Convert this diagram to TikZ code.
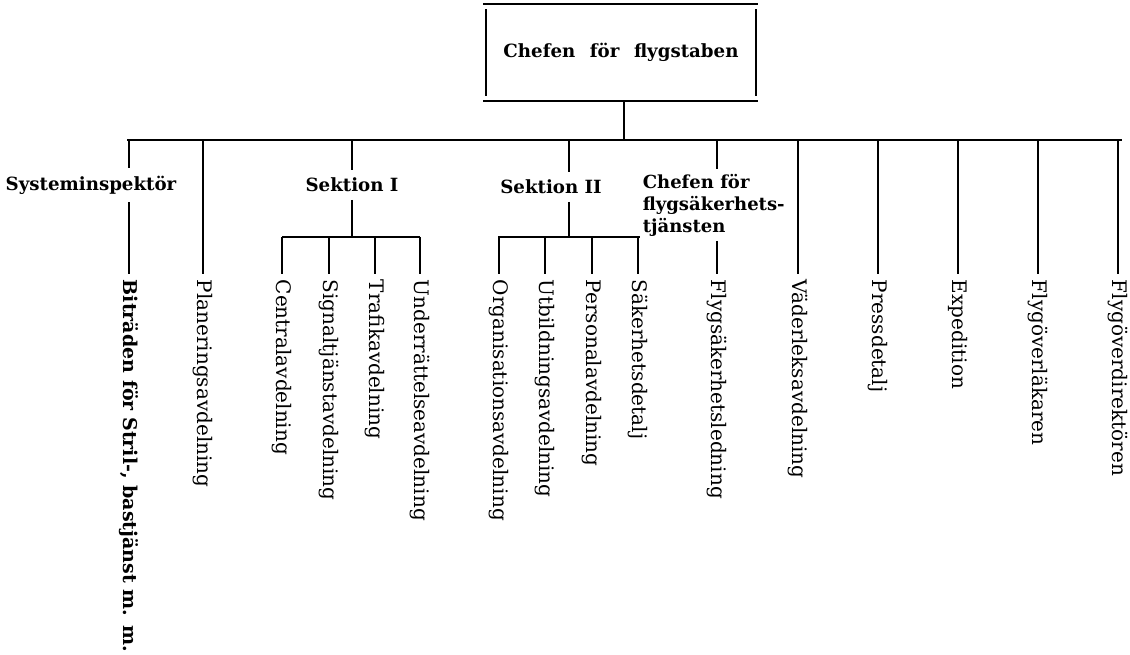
\documentclass[tikz,border=0pt]{standalone}
\usepackage{fontspec}
\setmainfont{DejaVu Serif}
\usetikzlibrary{calc}
\begin{document}
\begin{tikzpicture}[x=1pt,y=-1pt,line width=1.7pt,
  rot/.style={font=\fontsize{20}{22}\selectfont, inner sep=0pt, rotate=-90, anchor=west},
  head/.style={font=\bfseries\fontsize{18.2}{22}\selectfont, inner xsep=0pt, inner ysep=7pt},
  conn/.style={line width=1.7pt}]
\useasboundingbox (0,0) rectangle (1130,655);

% top box
\node[head, minimum width=268pt, minimum height=85pt, inner sep=0pt] (chef) at (621,52.5) {Chefen\hspace{0.45em} för\hspace{0.45em} flygstaben};
\draw[conn] ([xshift=-3pt,yshift=5pt]chef.north west) -- ([xshift=2pt,yshift=5pt]chef.north east);
\draw[conn] ([xshift=-3pt,yshift=-5pt]chef.south west) -- ([xshift=2pt,yshift=-5pt]chef.south east);
\draw[conn] (chef.north west) -- (chef.south west);
\draw[conn] (chef.north east) -- (chef.south east);

% main bus
\coordinate (busL) at (127,140);
\coordinate (busR) at (1122,140);
\draw[conn] (busL) -- (busR);
\draw[conn] ([xshift=3pt,yshift=-5pt]chef.south) -- ([xshift=3pt]chef.south |- busL);

% rotated labels
\node[rot, font=\bfseries\fontsize{19}{22}\selectfont] (bitr) at (129,279) {Biträden för Stril-, bastjänst m. m.};
\node[rot] (plan) at (203,279) {Planeringsavdelning};
\node[rot] (cent) at (282,279) {Centralavdelning};
\node[rot] (sign) at (329,279) {Signaltjänstavdelning};
\node[rot] (traf) at (375,279) {Trafikavdelning};
\node[rot] (unde) at (420,279) {Underrättelseavdelning};
\node[rot] (orga) at (499,279) {Organisationsavdelning};
\node[rot] (utbi) at (545,279) {Utbildningsavdelning};
\node[rot] (pers) at (592,279) {Personalavdelning};
\node[rot] (sake) at (638,279) {Säkerhetsdetalj};
\node[rot] (flyg) at (717,279) {Flygsäkerhetsledning};
\node[rot] (vade) at (798,279) {Väderleksavdelning};
\node[rot] (pres) at (878,279) {Pressdetalj};
\node[rot] (expe) at (958,279) {Expedition};
\node[rot] (lak) at (1038,279) {Flygöverläkaren};
\node[rot] (dir) at (1118,279) {Flygöverdirektören};

% intermediate labels
\node[head] (sys) at (91,185) {Systeminspektör};
\node[head] (sek1) at (352,185) {Sektion I};
\node[head] (sek2) at (551,187) {Sektion II};
\node[head, align=left, anchor=west, inner ysep=4pt, font=\bfseries\fontsize{18}{22}\selectfont] (fsk) at (642,205) {Chefen för\\flygsäkerhets-\\tjänsten};

% Systeminspektör branch
\draw[conn] (bitr.west |- busL) -- (bitr.west |- sys.north);
\draw[conn] (bitr.west |- sys.south) -- ([yshift=5pt]bitr.west);
\draw[conn] (plan.west |- busL) -- ([yshift=5pt]plan.west);

% Sektion I branch
\coordinate (s1L) at (282,237);
\coordinate (s1R) at (420,237);
\draw[conn] (sek1.north |- busL) -- (sek1.north);
\draw[conn] (sek1.south) -- (sek1.south |- s1L);
\draw[conn] (s1L) -- (s1R);
\foreach \n in {cent,sign,traf,unde}
  \draw[conn] (\n.west |- s1L) -- ([yshift=5pt]\n.west);

% Sektion II branch
\coordinate (s2top) at (569,140);
\coordinate (s2L) at (498,237);
\coordinate (s2R) at (640,237);
\draw[conn] (s2top) -- (s2top |- sek2.north);
\draw[conn] (s2top |- sek2.south) -- (s2top |- s2L);
\draw[conn] (s2L) -- (s2R);
\foreach \n in {orga,utbi,pers,sake}
  \draw[conn] (\n.west |- s2L) -- ([yshift=5pt]\n.west);

% Flygsäkerhet branch
\draw[conn] (flyg.west |- busL) -- (flyg.west |- fsk.north);
\draw[conn] (flyg.west |- fsk.south) -- ([yshift=5pt]flyg.west);

% single drops
\foreach \n in {vade,pres,expe,lak,dir}
  \draw[conn] (\n.west |- busL) -- ([yshift=5pt]\n.west);
\end{tikzpicture}
\end{document}
